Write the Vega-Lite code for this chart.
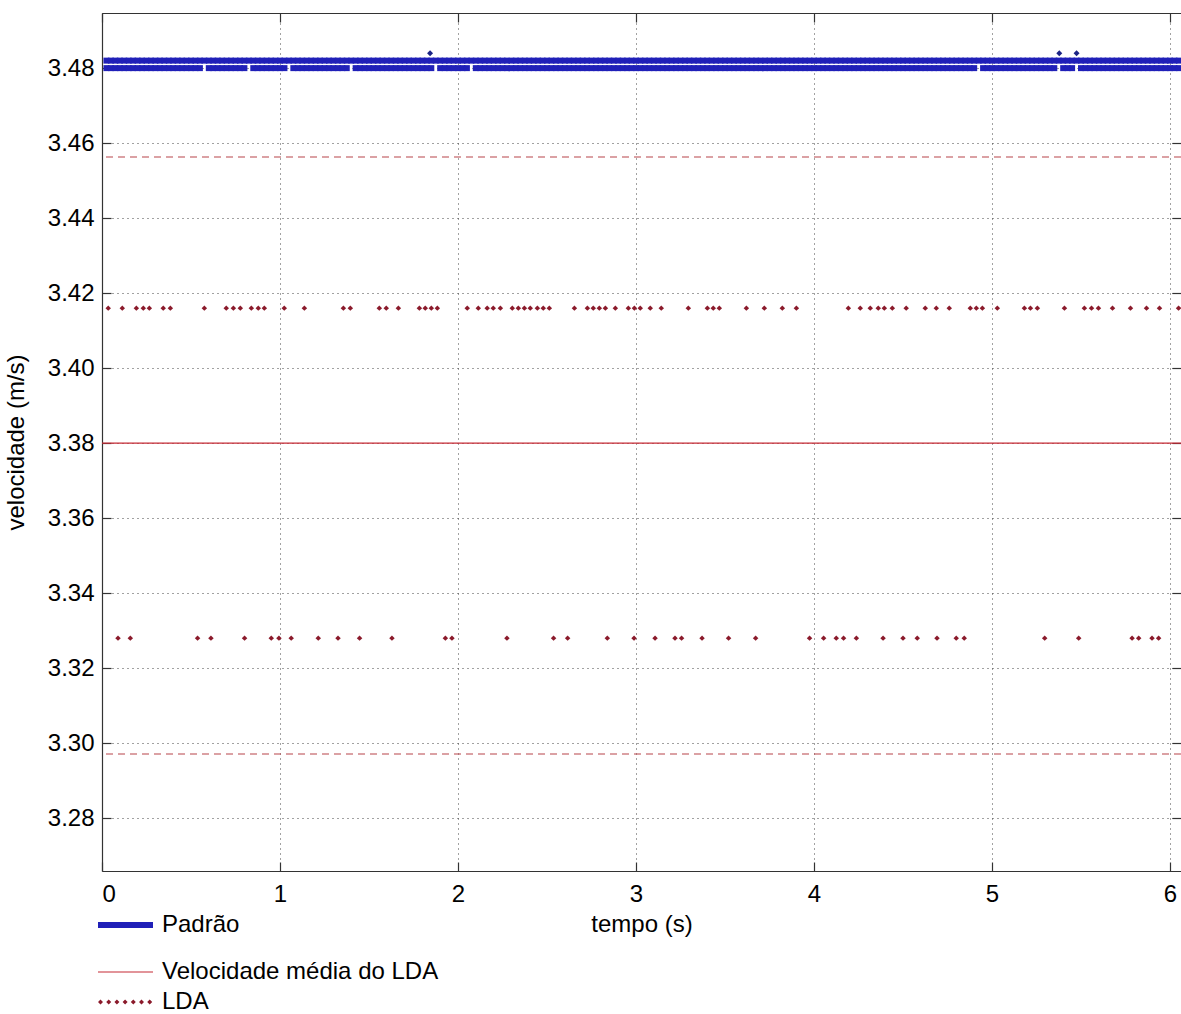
{
 "$schema": "https://vega.github.io/schema/vega-lite/v6.json",
 "width": 1079,
 "height": 858,
 "autosize": {"type": "none"},
 "padding": {"left": 102, "top": 13, "right": 0, "bottom": 143},
 "background": "white",
 "config": {
  "view": {"stroke": null},
  "font": "Liberation Sans",
  "axis": {
   "labelFont": "Liberation Sans", "labelFontSize": 24, "labelColor": "#000",
   "titleFont": "Liberation Sans", "titleFontSize": 24, "titleFontWeight": "normal", "titleColor": "#000",
   "domainColor": "#333", "domainWidth": 1.2, "tickColor": "#333", "tickWidth": 1.2, "tickSize": -9,
   "gridColor": "#444", "gridDash": [1, 4], "gridWidth": 1, "gridOpacity": 1
  }
 },
 "datasets": {
  "padrao": [
   {"t":0.025,"a":3.482,"b":3.48},{"t":0.05,"a":3.482,"b":3.48},{"t":0.075,"a":3.482,"b":3.48},{"t":0.1,"a":3.482,"b":3.48},{"t":0.125,"a":3.482,"b":3.48},{"t":0.15,"a":3.482,"b":3.48},{"t":0.175,"a":3.482,"b":3.48},{"t":0.2,"a":3.482,"b":3.48},{"t":0.225,"a":3.482,"b":3.48},{"t":0.25,"a":3.482,"b":3.48},
   {"t":0.275,"a":3.482,"b":3.48},{"t":0.3,"a":3.482,"b":3.48},{"t":0.325,"a":3.482,"b":3.48},{"t":0.35,"a":3.482,"b":3.48},{"t":0.375,"a":3.482,"b":3.48},{"t":0.4,"a":3.482,"b":3.48},{"t":0.425,"a":3.482,"b":3.48},{"t":0.45,"a":3.482,"b":3.48},{"t":0.475,"a":3.482,"b":3.48},{"t":0.5,"a":3.482,"b":3.48},
   {"t":0.525,"a":3.482,"b":3.48},{"t":0.55,"a":3.482,"b":3.48},{"t":0.575,"a":3.482,"b":null},{"t":0.6,"a":3.482,"b":3.48},{"t":0.625,"a":3.482,"b":3.48},{"t":0.65,"a":3.482,"b":3.48},{"t":0.675,"a":3.482,"b":3.48},{"t":0.7,"a":3.482,"b":3.48},{"t":0.725,"a":3.482,"b":3.48},{"t":0.75,"a":3.482,"b":3.48},
   {"t":0.775,"a":3.482,"b":3.48},{"t":0.8,"a":3.482,"b":3.48},{"t":0.825,"a":3.482,"b":null},{"t":0.85,"a":3.482,"b":3.48},{"t":0.875,"a":3.482,"b":3.48},{"t":0.9,"a":3.482,"b":3.48},{"t":0.925,"a":3.482,"b":3.48},{"t":0.95,"a":3.482,"b":3.48},{"t":0.975,"a":3.482,"b":3.48},{"t":1,"a":3.482,"b":3.48},
   {"t":1.025,"a":3.482,"b":3.48},{"t":1.05,"a":3.482,"b":null},{"t":1.075,"a":3.482,"b":3.48},{"t":1.1,"a":3.482,"b":3.48},{"t":1.125,"a":3.482,"b":3.48},{"t":1.15,"a":3.482,"b":3.48},{"t":1.175,"a":3.482,"b":3.48},{"t":1.2,"a":3.482,"b":3.48},{"t":1.225,"a":3.482,"b":3.48},{"t":1.25,"a":3.482,"b":3.48},
   {"t":1.275,"a":3.482,"b":3.48},{"t":1.3,"a":3.482,"b":3.48},{"t":1.325,"a":3.482,"b":3.48},{"t":1.35,"a":3.482,"b":3.48},{"t":1.375,"a":3.482,"b":3.48},{"t":1.4,"a":3.482,"b":null},{"t":1.425,"a":3.482,"b":3.48},{"t":1.45,"a":3.482,"b":3.48},{"t":1.475,"a":3.482,"b":3.48},{"t":1.5,"a":3.482,"b":3.48},
   {"t":1.525,"a":3.482,"b":3.48},{"t":1.55,"a":3.482,"b":3.48},{"t":1.575,"a":3.482,"b":3.48},{"t":1.6,"a":3.482,"b":3.48},{"t":1.625,"a":3.482,"b":3.48},{"t":1.65,"a":3.482,"b":3.48},{"t":1.675,"a":3.482,"b":3.48},{"t":1.7,"a":3.482,"b":3.48},{"t":1.725,"a":3.482,"b":3.48},{"t":1.75,"a":3.482,"b":3.48},
   {"t":1.775,"a":3.482,"b":3.48},{"t":1.8,"a":3.482,"b":3.48},{"t":1.825,"a":3.482,"b":3.48},{"t":1.85,"a":3.482,"b":3.48},{"t":1.875,"a":3.482,"b":null},{"t":1.9,"a":3.482,"b":3.48},{"t":1.925,"a":3.482,"b":3.48},{"t":1.95,"a":3.482,"b":3.48},{"t":1.975,"a":3.482,"b":3.48},{"t":2,"a":3.482,"b":3.48},
   {"t":2.025,"a":3.482,"b":3.48},{"t":2.05,"a":3.482,"b":3.48},{"t":2.075,"a":3.482,"b":null},{"t":2.1,"a":3.482,"b":3.48},{"t":2.125,"a":3.482,"b":3.48},{"t":2.15,"a":3.482,"b":3.48},{"t":2.175,"a":3.482,"b":3.48},{"t":2.2,"a":3.482,"b":3.48},{"t":2.225,"a":3.482,"b":3.48},{"t":2.25,"a":3.482,"b":3.48},
   {"t":2.275,"a":3.482,"b":3.48},{"t":2.3,"a":3.482,"b":3.48},{"t":2.325,"a":3.482,"b":3.48},{"t":2.35,"a":3.482,"b":3.48},{"t":2.375,"a":3.482,"b":3.48},{"t":2.4,"a":3.482,"b":3.48},{"t":2.425,"a":3.482,"b":3.48},{"t":2.45,"a":3.482,"b":3.48},{"t":2.475,"a":3.482,"b":3.48},{"t":2.5,"a":3.482,"b":3.48},
   {"t":2.525,"a":3.482,"b":3.48},{"t":2.55,"a":3.482,"b":3.48},{"t":2.575,"a":3.482,"b":3.48},{"t":2.6,"a":3.482,"b":3.48},{"t":2.625,"a":3.482,"b":3.48},{"t":2.65,"a":3.482,"b":3.48},{"t":2.675,"a":3.482,"b":3.48},{"t":2.7,"a":3.482,"b":3.48},{"t":2.725,"a":3.482,"b":3.48},{"t":2.75,"a":3.482,"b":3.48},
   {"t":2.775,"a":3.482,"b":3.48},{"t":2.8,"a":3.482,"b":3.48},{"t":2.825,"a":3.482,"b":3.48},{"t":2.85,"a":3.482,"b":3.48},{"t":2.875,"a":3.482,"b":3.48},{"t":2.9,"a":3.482,"b":3.48},{"t":2.925,"a":3.482,"b":3.48},{"t":2.95,"a":3.482,"b":3.48},{"t":2.975,"a":3.482,"b":3.48},{"t":3,"a":3.482,"b":3.48},
   {"t":3.025,"a":3.482,"b":3.48},{"t":3.05,"a":3.482,"b":3.48},{"t":3.075,"a":3.482,"b":3.48},{"t":3.1,"a":3.482,"b":3.48},{"t":3.125,"a":3.482,"b":3.48},{"t":3.15,"a":3.482,"b":3.48},{"t":3.175,"a":3.482,"b":3.48},{"t":3.2,"a":3.482,"b":3.48},{"t":3.225,"a":3.482,"b":3.48},{"t":3.25,"a":3.482,"b":3.48},
   {"t":3.275,"a":3.482,"b":3.48},{"t":3.3,"a":3.482,"b":3.48},{"t":3.325,"a":3.482,"b":3.48},{"t":3.35,"a":3.482,"b":3.48},{"t":3.375,"a":3.482,"b":3.48},{"t":3.4,"a":3.482,"b":3.48},{"t":3.425,"a":3.482,"b":3.48},{"t":3.45,"a":3.482,"b":3.48},{"t":3.475,"a":3.482,"b":3.48},{"t":3.5,"a":3.482,"b":3.48},
   {"t":3.525,"a":3.482,"b":3.48},{"t":3.55,"a":3.482,"b":3.48},{"t":3.575,"a":3.482,"b":3.48},{"t":3.6,"a":3.482,"b":3.48},{"t":3.625,"a":3.482,"b":3.48},{"t":3.65,"a":3.482,"b":3.48},{"t":3.675,"a":3.482,"b":3.48},{"t":3.7,"a":3.482,"b":3.48},{"t":3.725,"a":3.482,"b":3.48},{"t":3.75,"a":3.482,"b":3.48},
   {"t":3.775,"a":3.482,"b":3.48},{"t":3.8,"a":3.482,"b":3.48},{"t":3.825,"a":3.482,"b":3.48},{"t":3.85,"a":3.482,"b":3.48},{"t":3.875,"a":3.482,"b":3.48},{"t":3.9,"a":3.482,"b":3.48},{"t":3.925,"a":3.482,"b":3.48},{"t":3.95,"a":3.482,"b":3.48},{"t":3.975,"a":3.482,"b":3.48},{"t":4,"a":3.482,"b":3.48},
   {"t":4.025,"a":3.482,"b":3.48},{"t":4.05,"a":3.482,"b":3.48},{"t":4.075,"a":3.482,"b":3.48},{"t":4.1,"a":3.482,"b":3.48},{"t":4.125,"a":3.482,"b":3.48},{"t":4.15,"a":3.482,"b":3.48},{"t":4.175,"a":3.482,"b":3.48},{"t":4.2,"a":3.482,"b":3.48},{"t":4.225,"a":3.482,"b":3.48},{"t":4.25,"a":3.482,"b":3.48},
   {"t":4.275,"a":3.482,"b":3.48},{"t":4.3,"a":3.482,"b":3.48},{"t":4.325,"a":3.482,"b":3.48},{"t":4.35,"a":3.482,"b":3.48},{"t":4.375,"a":3.482,"b":3.48},{"t":4.4,"a":3.482,"b":3.48},{"t":4.425,"a":3.482,"b":3.48},{"t":4.45,"a":3.482,"b":3.48},{"t":4.475,"a":3.482,"b":3.48},{"t":4.5,"a":3.482,"b":3.48},
   {"t":4.525,"a":3.482,"b":3.48},{"t":4.55,"a":3.482,"b":3.48},{"t":4.575,"a":3.482,"b":3.48},{"t":4.6,"a":3.482,"b":3.48},{"t":4.625,"a":3.482,"b":3.48},{"t":4.65,"a":3.482,"b":3.48},{"t":4.675,"a":3.482,"b":3.48},{"t":4.7,"a":3.482,"b":3.48},{"t":4.725,"a":3.482,"b":3.48},{"t":4.75,"a":3.482,"b":3.48},
   {"t":4.775,"a":3.482,"b":3.48},{"t":4.8,"a":3.482,"b":3.48},{"t":4.825,"a":3.482,"b":3.48},{"t":4.85,"a":3.482,"b":3.48},{"t":4.875,"a":3.482,"b":3.48},{"t":4.9,"a":3.482,"b":3.48},{"t":4.925,"a":3.482,"b":null},{"t":4.95,"a":3.482,"b":3.48},{"t":4.975,"a":3.482,"b":3.48},{"t":5,"a":3.482,"b":3.48},
   {"t":5.025,"a":3.482,"b":3.48},{"t":5.05,"a":3.482,"b":3.48},{"t":5.075,"a":3.482,"b":3.48},{"t":5.1,"a":3.482,"b":3.48},{"t":5.125,"a":3.482,"b":3.48},{"t":5.15,"a":3.482,"b":3.48},{"t":5.175,"a":3.482,"b":3.48},{"t":5.2,"a":3.482,"b":3.48},{"t":5.225,"a":3.482,"b":3.48},{"t":5.25,"a":3.482,"b":3.48},
   {"t":5.275,"a":3.482,"b":3.48},{"t":5.3,"a":3.482,"b":3.48},{"t":5.325,"a":3.482,"b":3.48},{"t":5.35,"a":3.482,"b":3.48},{"t":5.375,"a":3.482,"b":null},{"t":5.4,"a":3.482,"b":3.48},{"t":5.425,"a":3.482,"b":3.48},{"t":5.45,"a":3.482,"b":3.48},{"t":5.475,"a":3.482,"b":null},{"t":5.5,"a":3.482,"b":3.48},
   {"t":5.525,"a":3.482,"b":3.48},{"t":5.55,"a":3.482,"b":3.48},{"t":5.575,"a":3.482,"b":3.48},{"t":5.6,"a":3.482,"b":3.48},{"t":5.625,"a":3.482,"b":3.48},{"t":5.65,"a":3.482,"b":3.48},{"t":5.675,"a":3.482,"b":3.48},{"t":5.7,"a":3.482,"b":3.48},{"t":5.725,"a":3.482,"b":3.48},{"t":5.75,"a":3.482,"b":3.48},
   {"t":5.775,"a":3.482,"b":3.48},{"t":5.8,"a":3.482,"b":3.48},{"t":5.825,"a":3.482,"b":3.48},{"t":5.85,"a":3.482,"b":3.48},{"t":5.875,"a":3.482,"b":3.48},{"t":5.9,"a":3.482,"b":3.48},{"t":5.925,"a":3.482,"b":3.48},{"t":5.95,"a":3.482,"b":3.48},{"t":5.975,"a":3.482,"b":3.48},{"t":6,"a":3.482,"b":3.48},
   {"t":6.025,"a":3.482,"b":3.48},{"t":6.05,"a":3.482,"b":3.48}
  ],
  "outl": [
   {"t":1.843,"v":3.484},{"t":5.378,"v":3.484},{"t":5.475,"v":3.484}
  ],
  "lda": [
   {"t":0.035,"v":3.416},{"t":0.114,"v":3.416},{"t":0.193,"v":3.416},{"t":0.232,"v":3.416},{"t":0.266,"v":3.416},{"t":0.344,"v":3.416},{"t":0.384,"v":3.416},{"t":0.575,"v":3.416},{"t":0.698,"v":3.416},{"t":0.738,"v":3.416},
   {"t":0.777,"v":3.416},{"t":0.839,"v":3.416},{"t":0.878,"v":3.416},{"t":0.912,"v":3.416},{"t":1.024,"v":3.416},{"t":1.137,"v":3.416},{"t":1.356,"v":3.416},{"t":1.395,"v":3.416},{"t":1.558,"v":3.416},{"t":1.597,"v":3.416},
   {"t":1.665,"v":3.416},{"t":1.783,"v":3.416},{"t":1.816,"v":3.416},{"t":1.85,"v":3.416},{"t":1.884,"v":3.416},{"t":2.052,"v":3.416},{"t":2.114,"v":3.416},{"t":2.164,"v":3.416},{"t":2.198,"v":3.416},{"t":2.238,"v":3.416},
   {"t":2.305,"v":3.416},{"t":2.339,"v":3.416},{"t":2.373,"v":3.416},{"t":2.406,"v":3.416},{"t":2.446,"v":3.416},{"t":2.479,"v":3.416},{"t":2.513,"v":3.416},{"t":2.654,"v":3.416},{"t":2.727,"v":3.416},{"t":2.76,"v":3.416},
   {"t":2.794,"v":3.416},{"t":2.828,"v":3.416},{"t":2.884,"v":3.416},{"t":2.957,"v":3.416},{"t":2.991,"v":3.416},{"t":3.024,"v":3.416},{"t":3.08,"v":3.416},{"t":3.142,"v":3.416},{"t":3.294,"v":3.416},{"t":3.401,"v":3.416},
   {"t":3.434,"v":3.416},{"t":3.468,"v":3.416},{"t":3.62,"v":3.416},{"t":3.721,"v":3.416},{"t":3.822,"v":3.416},{"t":3.901,"v":3.416},{"t":4.193,"v":3.416},{"t":4.26,"v":3.416},{"t":4.316,"v":3.416},{"t":4.361,"v":3.416},
   {"t":4.395,"v":3.416},{"t":4.44,"v":3.416},{"t":4.518,"v":3.416},{"t":4.625,"v":3.416},{"t":4.687,"v":3.416},{"t":4.76,"v":3.416},{"t":4.878,"v":3.416},{"t":4.912,"v":3.416},{"t":4.946,"v":3.416},{"t":5.03,"v":3.416},
   {"t":5.182,"v":3.416},{"t":5.216,"v":3.416},{"t":5.255,"v":3.416},{"t":5.407,"v":3.416},{"t":5.519,"v":3.416},{"t":5.559,"v":3.416},{"t":5.598,"v":3.416},{"t":5.677,"v":3.416},{"t":5.778,"v":3.416},{"t":5.868,"v":3.416},
   {"t":5.941,"v":3.416},{"t":6.048,"v":3.416},
   {"t":0.09,"v":3.328},{"t":0.159,"v":3.328},{"t":0.537,"v":3.328},{"t":0.612,"v":3.328},{"t":0.801,"v":3.328},{"t":0.951,"v":3.328},{"t":0.994,"v":3.328},{"t":1.063,"v":3.328},{"t":1.215,"v":3.328},{"t":1.326,"v":3.328},
   {"t":1.447,"v":3.328},{"t":1.629,"v":3.328},{"t":1.929,"v":3.328},{"t":1.966,"v":3.328},{"t":2.275,"v":3.328},{"t":2.537,"v":3.328},{"t":2.616,"v":3.328},{"t":2.839,"v":3.328},{"t":2.989,"v":3.328},{"t":3.107,"v":3.328},
   {"t":3.219,"v":3.328},{"t":3.256,"v":3.328},{"t":3.371,"v":3.328},{"t":3.52,"v":3.328},{"t":3.672,"v":3.328},{"t":3.975,"v":3.328},{"t":4.054,"v":3.328},{"t":4.125,"v":3.328},{"t":4.166,"v":3.328},{"t":4.238,"v":3.328},
   {"t":4.388,"v":3.328},{"t":4.5,"v":3.328},{"t":4.58,"v":3.328},{"t":4.691,"v":3.328},{"t":4.799,"v":3.328},{"t":4.844,"v":3.328},{"t":5.296,"v":3.328},{"t":5.487,"v":3.328},{"t":5.787,"v":3.328},{"t":5.824,"v":3.328},
   {"t":5.899,"v":3.328},{"t":5.936,"v":3.328}
  ]
 },
 "resolve": {"axis": {"x": "independent", "y": "independent"}},
 "layer": [
  {
   "data": {"values": [{"v": 3.4563}, {"v": 3.2971}]},
   "mark": {"type": "rule", "color": "#b8454a", "strokeWidth": 1.2, "strokeDash": [7, 5]},
   "encoding": {
    "y": {"field": "v", "type": "quantitative", "scale": {"domain": [3.2659, 3.4947], "nice": false, "zero": false}, "axis": null}
   }
  },
  {
   "data": {"values": [{"v": 3.38}]},
   "mark": {"type": "rule", "strokeWidth": 1.2},
   "encoding": {
    "y": {"field": "v", "type": "quantitative", "scale": {"domain": [3.2659, 3.4947], "nice": false, "zero": false}, "axis": null},
    "color": {
     "datum": "Velocidade média do LDA",
     "scale": {"domain": ["Padrão", "Velocidade média do LDA"], "range": ["#2020b8", "#c62a34"]},
     "legend": {
      "orient": "none", "legendX": -6, "legendY": 900, "direction": "vertical", "title": null, "padding": 0,
      "labelFont": "Liberation Sans", "labelFontSize": 24, "labelColor": "#000", "labelOffset": 42, "labelLimit": 600,
      "rowPadding": 23, "symbolSize": 400, "symbolStrokeWidth": 1, "symbolType": "M-1,0H4.5",
      "encode": {
       "symbols": {"update": {
        "shape": {"value": "M-1,0H4.5"},
        "size": {"value": 400},
        "fill": {"value": "transparent"},
        "opacity": {"value": 1},
        "stroke": {"signal": "datum.value === 'Padrão' ? '#2020b8' : '#c62a34'"},
        "strokeWidth": {"signal": "datum.value === 'Padrão' ? 6 : 1.2"}
       }}
      }
     }
    }
   }
  },
  {
   "data": {"name": "lda"},
   "mark": {"type": "point", "shape": "diamond", "filled": true, "size": 30, "color": "#8b1a2b"},
   "encoding": {
    "x": {"field": "t", "type": "quantitative", "scale": {"domain": [0, 6.0618], "nice": false, "zero": false},
     "axis": {"orient": "bottom", "values": [0, 1, 2, 3, 4, 5, 6], "format": "d", "labelPadding": 20, "grid": true, "title": "tempo (s)", "titlePadding": 6}},
    "y": {"field": "v", "type": "quantitative", "scale": {"domain": [3.2659, 3.4947], "nice": false, "zero": false},
     "axis": {"orient": "left", "values": [3.28, 3.3, 3.32, 3.34, 3.36, 3.38, 3.4, 3.42, 3.44, 3.46, 3.48], "format": ".2f", "labelPadding": 17, "grid": true, "title": "velocidade (m/s)", "titlePadding": 19}},
    "opacity": {
     "datum": "LDA",
     "type": "nominal",
     "scale": {"domain": ["LDA"], "range": [1]},
     "legend": {
      "orient": "none", "legendX": -6, "legendY": 977, "direction": "vertical", "title": null, "padding": 0,
      "labelFont": "Liberation Sans", "labelFontSize": 24, "labelColor": "#000", "labelOffset": 42, "labelLimit": 600,
      "symbolSize": 400, "symbolStrokeWidth": 1,
      "symbolType": "M-0.75,-0.25L-0.5,0L-0.75,0.25L-1,0Z M0.07,-0.25L0.32,0L0.07,0.25L-0.18,0Z M0.89,-0.25L1.14,0L0.89,0.25L0.64,0Z M1.71,-0.25L1.96,0L1.71,0.25L1.46,0Z M2.53,-0.25L2.78,0L2.53,0.25L2.28,0Z M3.35,-0.25L3.6,0L3.35,0.25L3.1,0Z M4.17,-0.25L4.42,0L4.17,0.25L3.92,0Z",
      "encode": {
       "symbols": {"update": {
        "shape": {"value": "M-0.75,-0.25L-0.5,0L-0.75,0.25L-1,0Z M0.07,-0.25L0.32,0L0.07,0.25L-0.18,0Z M0.89,-0.25L1.14,0L0.89,0.25L0.64,0Z M1.71,-0.25L1.96,0L1.71,0.25L1.46,0Z M2.53,-0.25L2.78,0L2.53,0.25L2.28,0Z M3.35,-0.25L3.6,0L3.35,0.25L3.1,0Z M4.17,-0.25L4.42,0L4.17,0.25L3.92,0Z"},
        "size": {"value": 400},
        "fill": {"value": "#8b1a2b"},
        "stroke": {"value": "#d99aa2"},
        "strokeWidth": {"value": 0.5},
        "opacity": {"value": 1}
       }}
      }
     }
    }
   }
  },
  {
   "data": {"name": "padrao"},
   "mark": {"type": "point", "shape": "square", "filled": true, "size": 36, "opacity": 1},
   "encoding": {
    "x": {"field": "t", "type": "quantitative", "scale": {"domain": [0, 6.0618], "nice": false, "zero": false}, "axis": null},
    "y": {"field": "a", "type": "quantitative", "scale": {"domain": [3.2659, 3.4947], "nice": false, "zero": false}, "axis": null},
    "color": {"datum": "Padrão"}
   }
  },
  {
   "data": {"name": "padrao"},
   "mark": {"type": "point", "shape": "square", "filled": true, "size": 36, "opacity": 1},
   "encoding": {
    "x": {"field": "t", "type": "quantitative", "scale": {"domain": [0, 6.0618], "nice": false, "zero": false},
     "axis": {"orient": "top", "values": [0, 1, 2, 3, 4, 5, 6], "labels": false, "grid": false, "domain": true, "title": null}},
    "y": {"field": "b", "type": "quantitative", "scale": {"domain": [3.2659, 3.4947], "nice": false, "zero": false},
     "axis": {"orient": "right", "values": [3.28, 3.3, 3.32, 3.34, 3.36, 3.38, 3.4, 3.42, 3.44, 3.46, 3.48], "labels": false, "grid": false, "domain": false, "title": null}},
    "color": {"datum": "Padrão"}
   }
  },
  {
   "data": {"name": "outl"},
   "mark": {"type": "point", "shape": "diamond", "filled": true, "size": 36, "opacity": 1, "color": "#1c2486"},
   "encoding": {
    "x": {"field": "t", "type": "quantitative", "scale": {"domain": [0, 6.0618], "nice": false, "zero": false}, "axis": null},
    "y": {"field": "v", "type": "quantitative", "scale": {"domain": [3.2659, 3.4947], "nice": false, "zero": false}, "axis": null}
   }
  }
 ]
}
